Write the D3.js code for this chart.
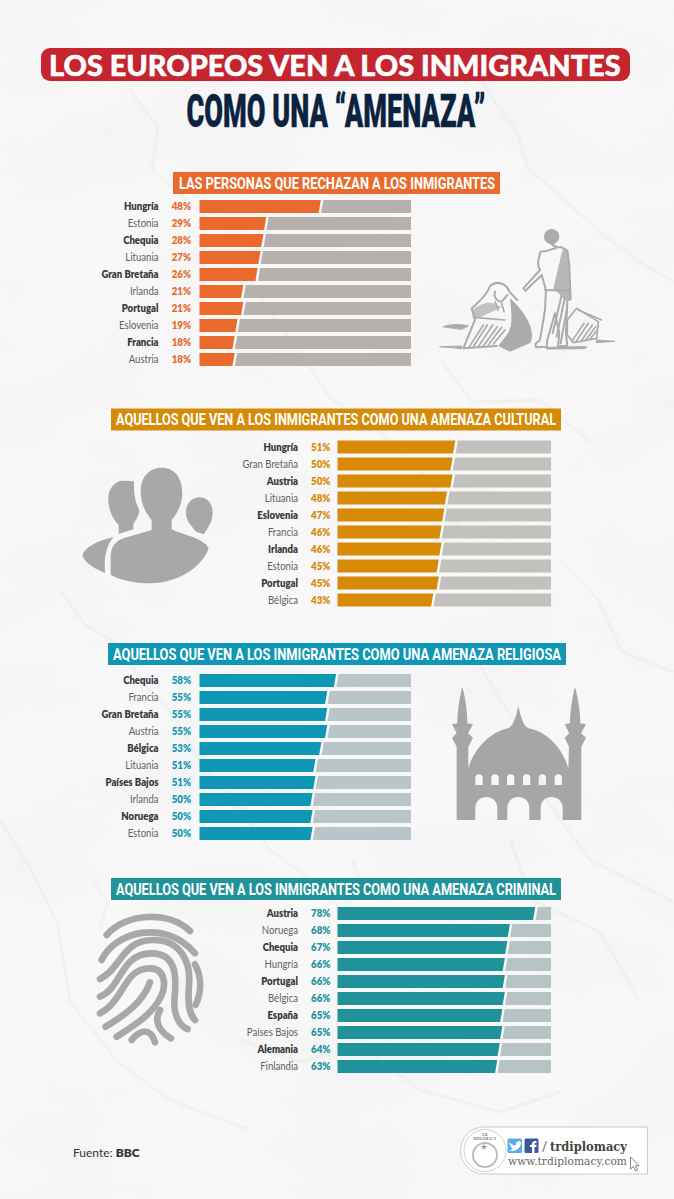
<!DOCTYPE html>
<html><head><meta charset="utf-8">
<script src="https://cdn.jsdelivr.net/npm/d3@7/dist/d3.min.js"></script>
<style>html,body{margin:0;padding:0;background:#f6f6f6}svg{display:block}</style>
</head><body><svg id="c" width="674" height="1199" viewBox="0 0 674 1199"></svg>
<script>
const titleTop = "LOS EUROPEOS VEN A LOS INMIGRANTES";
const titleSub = "COMO UNA “AMENAZA”";
const headers = ["LAS PERSONAS QUE RECHAZAN A LOS INMIGRANTES","AQUELLOS QUE VEN A LOS INMIGRANTES COMO UNA AMENAZA CULTURAL","AQUELLOS QUE VEN A LOS INMIGRANTES COMO UNA AMENAZA RELIGIOSA","AQUELLOS QUE VEN A LOS INMIGRANTES COMO UNA AMENAZA CRIMINAL"];
const names1 = ["Hungría","Estonia","Chequia","Lituania","Gran Bretaña","Irlanda","Portugal","Eslovenia","Francia","Austria"];
const values1 = [48,29,28,27,26,21,21,19,18,18];
const names2 = ["Hungría","Gran Bretaña","Austria","Lituania","Eslovenia","Francia","Irlanda","Estonia","Portugal","Bélgica"];
const values2 = [51,50,50,48,47,46,46,45,45,43];
const names3 = ["Chequia","Francia","Gran Bretaña","Austria","Bélgica","Lituania","Países Bajos","Irlanda","Noruega","Estonia"];
const values3 = [58,55,55,55,53,51,51,50,50,50];
const names4 = ["Austria","Noruega","Chequia","Hungría","Portugal","Bélgica","España","Países Bajos","Alemania","Finlandia"];
const values4 = [78,68,67,66,66,66,65,65,64,63];
const source = "BBC";

const svg = d3.select("#c");
const defs = svg.append("defs");
const f = defs.append("filter").attr("id","marble").attr("x",0).attr("y",0).attr("width","100%").attr("height","100%");
f.append("feTurbulence").attr("type","fractalNoise").attr("baseFrequency","0.007 0.011").attr("numOctaves",5).attr("seed",11);
f.append("feColorMatrix").attr("values","0 0 0 0 0.8  0 0 0 0 0.8  0 0 0 0 0.8  0.9 0 0 0 -0.36");
defs.append("filter").attr("id","soft").append("feGaussianBlur").attr("stdDeviation",.8);

svg.append("rect").attr("width",674).attr("height",1199).attr("fill","#f8f8f8");
svg.append("rect").attr("width",674).attr("height",1199).attr("filter","url(#marble)").attr("opacity",.6);
const veins = [
 "M60,590 L85,625 L112,640 L150,690 L172,712 L205,770 L240,808 L270,850 L300,872 L340,908",
 "M470,60 L492,98 L516,130 L528,168 L560,196 L600,232 L640,262 L674,282",
 "M215,238 L240,270 L262,300 L300,352 L330,398 L380,432 L420,470 L470,540",
 "M455,640 L482,668 L500,700 L530,742 L548,802 L590,860 L640,885 L674,902",
 "M0,820 L30,868 L58,925 L70,1002 L118,1062 L170,1100 L250,1130",
 "M240,1040 L300,1062 L360,1045 L420,1090 L500,1112 L560,1092",
 "M130,90 L158,128 L152,170 L198,210",
 "M560,560 L598,600 L622,652 L674,672",
 "M510,840 L532,900 L600,932 L640,1002",
 "M440,360 L472,402 L540,400 L590,442",
 "M345,905 L360,880 L352,860 M92,880 L108,902 L100,928"];
svg.append("g").attr("fill","none").attr("stroke","#dedede").attr("stroke-width",1).attr("stroke-linejoin","round").attr("filter","url(#soft)")
  .selectAll("path").data(veins).join("path").attr("d",d=>d);

function squeezed(sel, factor){
  sel.each(function(){ const n=this.getComputedTextLength();
    d3.select(this).attr("textLength",n*factor).attr("lengthAdjust","spacingAndGlyphs"); });
  return sel;
}
function fitted(sel, w){ return sel.attr("textLength",w).attr("lengthAdjust","spacingAndGlyphs"); }
function scaledTo(sel, px, py, w){
  const n = sel.node().getComputedTextLength();
  return sel.attr("transform",`translate(${px},${py}) scale(${w/n},1)`);
}

// Title
svg.append("rect").attr("x",41).attr("y",48).attr("width",589).attr("height",33).attr("rx",9).attr("fill","#c4252f");
scaledTo(svg.append("text").attr("font-family","Lato").attr("font-weight",900).attr("font-size",29).attr("fill","#fff").attr("stroke","#fff").attr("stroke-width",.5).text(titleTop),49,75.5,572);
scaledTo(svg.append("text").attr("font-family","Roboto").attr("font-weight",900).attr("font-size",46).attr("fill","#0c2340").attr("stroke","#0c2340").attr("stroke-width",.4).text(titleSub),186.5,127,299);

const panels = [
 {names:names1,values:values1,domain:[5.6,79.2],x0:199.5,x1:411,top:200,labelEnd:158.5,pctX:171.7,color:"#ea6a2d",rest:"#b7b1ae",h:[173,172,327,22],ht:[179,316]},
 {names:names2,values:values2,domain:[8,85.6],x0:337.5,x1:551,top:440.5,labelEnd:298,pctX:311,color:"#d68a06",rest:"#c3c1bd",h:[111,408.5,450,22],ht:[116,440]},
 {names:names3,values:values3,domain:[11.4,83.3],x0:199.5,x1:411,top:674,labelEnd:158.5,pctX:171.7,color:"#0f98b6",rest:"#b9c5c9",h:[108,643,458,22],ht:[113,448]},
 {names:names4,values:values4,domain:[-0.2,84],x0:337.5,x1:551,top:907,labelEnd:298,pctX:311,color:"#20929a",rest:"#b8c3c3",h:[111,878,450,22],ht:[116,440]}
];
panels.forEach((p,i)=>{
  const g = svg.append("g");
  g.append("rect").attr("x",p.h[0]).attr("y",p.h[1]).attr("width",p.h[2]).attr("height",p.h[3]).attr("fill",p.color);
  fitted(g.append("text").attr("x",p.ht[0]).attr("y",p.h[1]+16.5).attr("font-family","Roboto").attr("font-weight",700).attr("font-size",16).attr("fill","#fff").text(headers[i]),p.ht[1]);
  const x = d3.scaleLinear().domain(p.domain).range([p.x0,p.x1]);
  const y = d3.scaleBand().domain(p.names).range([p.top,p.top+166]).paddingInner(4/17).paddingOuter(0);
  const h = y.bandwidth();
  const data = p.names.map((n,j)=>({n,v:p.values[j],j}));
  const rows = g.selectAll("g.r").data(data).join("g").attr("class","r");
  rows.append("path").attr("fill",p.rest).attr("d",d=>{const e=x(d.v),t=y(d.n);
    return `M${e+2},${t}L${p.x1},${t}L${p.x1},${t+h}L${e-.2},${t+h}Z`;});
  rows.append("path").attr("fill",p.color).attr("d",d=>{const e=x(d.v),t=y(d.n);
    return `M${p.x0},${t}L${e-.5},${t}L${e-2.7},${t+h}L${p.x0},${t+h}Z`;});
  squeezed(rows.append("text").attr("x",p.labelEnd).attr("y",d=>y(d.n)+10.2).attr("text-anchor","end")
    .attr("font-family","Lato").attr("font-size",11.4)
    .attr("font-weight",d=>d.j%2==0?800:400).attr("fill",d=>d.j%2==0?"#39393b":"#5f5f61").text(d=>d.n),.84);
  squeezed(rows.append("text").attr("x",p.pctX).attr("y",d=>y(d.n)+10.4)
    .attr("font-family","Lato").attr("font-weight",800).attr("font-size",11.6).attr("fill",p.color).text(d=>d.v+"%"),.84);
});

// Refugees sketch
const sk = svg.append("g").attr("transform","translate(430,220) scale(.3333)").attr("fill","#ababab").attr("stroke","#ababab").attr("stroke-linecap","round").attr("stroke-linejoin","round");
sk.append("circle").attr("cx",365).attr("cy",50).attr("r",23).attr("stroke","none");
sk.append("path").attr("d","M362,70 L378,84 L352,92 L332,95 C322,125 322,135 330,150 L280,205 L286,212 L335,165 L348,210 L345,270 L330,360 L316,372 L318,382 L350,380 L352,360 L375,280 L388,340 L384,378 L412,378 L408,340 L412,240 L422,238 L418,135 L412,92 L395,82 L382,82 Z").attr("fill","none").attr("stroke-width",6);
sk.append("path").attr("d","M398,88 L416,96 L422,236 L405,240 L370,205 Z").attr("stroke","none").attr("opacity",.85);
sk.append("path").attr("fill","none").attr("stroke-width",6).attr("d","M395,225 L368,340 M405,232 L380,350 M412,260 L392,370 M345,210 L420,212");
sk.append("path").attr("fill","none").attr("stroke-width",6).attr("d","M180,198 C200,180 230,190 238,215 L262,240 M180,198 C170,230 135,255 125,265 L135,300 L100,385 L200,378 M195,215 C190,230 200,245 215,245 L232,225");
sk.append("path").attr("stroke","none").attr("d","M240,235 C285,275 318,330 302,368 L240,395 L205,378 L230,345 C250,320 245,285 240,235 Z");
sk.append("path").attr("stroke","none").attr("d","M130,268 C150,252 175,245 190,250 L215,262 L150,292 L130,290 Z").attr("opacity",.7);
sk.append("path").attr("fill","none").attr("stroke-width",5).attr("d","M118,380 L160,315 M130,380 L172,315 M145,380 L188,315 M160,378 L202,320 M175,375 L215,322 M190,372 L225,330 M130,292 L225,300 M195,245 L205,270 M215,250 L222,275");
sk.append("path").attr("fill","none").attr("stroke-width",5).attr("d","M412,300 L440,265 L505,305 L500,355 L430,368 L412,345 Z");
sk.append("path").attr("fill","none").attr("stroke-width",5).attr("d","M425,365 L462,310 M438,365 L475,310 M452,365 L487,315 M466,362 L497,320 M480,358 L500,332 M445,270 L515,300");
sk.append("path").attr("stroke-width",3).attr("d","M40,320 C60,312 90,312 115,318 L95,328 Z M30,380 L95,378 L95,385 Z M500,360 L555,364 L500,368 Z M350,382 L470,380 L465,386 L350,387 Z");

// People
const pe = svg.append("g").attr("transform","translate(70,440) scale(.3333)").attr("fill","#a8a8a8");
pe.append("path").attr("d","M275,83 C315,83 337,115 337,160 C337,195 318,225 305,240 L305,268 C330,282 405,295 416,325 C400,375 330,430 240,430 C190,430 150,420 122,405 L122,345 C125,320 135,305 160,295 L245,270 L245,240 C228,220 212,190 212,155 C212,110 238,83 275,83 Z");
pe.append("path").attr("d","M160,122 L192,124 C190,155 195,185 208,210 C208,225 198,240 190,252 L190,268 L146,282 L146,255 C125,235 115,205 115,175 C115,145 135,122 160,122 Z");
pe.append("path").attr("d","M388,172 C412,172 428,190 428,220 C428,250 408,270 402,283 L378,275 L362,255 C350,240 346,225 348,210 C352,188 368,172 388,172 Z");
pe.append("path").attr("d","M130,292 C110,318 102,345 105,400 L75,385 C60,375 38,360 38,345 C45,320 90,300 130,292 Z");

// Mosque
const mosqueWindows = [117,165,212,260,307,355].map(c=>`M${c-11},315 L${c-11},295 Q${c-11},283 ${c},283 Q${c+11},283 ${c+11},295 L${c+11},315 Z`).join("");
const mosqueDoors = [139,235,335].map(c=>`M${c-33},420 L${c-33},385 C${c-33},340 ${c+33},340 ${c+33},385 L${c+33},420 Z`).join("");
svg.append("g").attr("transform","translate(440,680) scale(.3333)").append("path").attr("fill","#a6a6a6").attr("fill-rule","evenodd")
 .attr("d",`M67,20 C78,60 82,100 82,130 L99,133 L84,160 L99,173 L85,200 L85,265 C100,210 150,155 205,145 C222,135 228,110 235,78 C243,110 248,135 265,145 C325,155 370,210 385,265 L387,200 L374,173 L388,160 L374,133 L390,130 C390,100 395,60 405,20 C416,60 421,100 421,130 L438,133 L423,160 L438,173 L424,200 L424,420 L50,420 L50,200 L36,173 L50,160 L36,133 L52,130 C52,100 57,60 67,20 Z ${mosqueWindows} ${mosqueDoors}`);

// Fingerprint
const ridges = ["M65,90 C120,25 250,15 315,78","M50,165 C90,80 240,40 330,145","M45,222 C110,190 110,105 205,105 C290,105 318,175 312,240 C308,290 310,325 330,345",
 "M45,275 C110,250 105,145 200,145 C290,145 270,250 268,290 C266,330 285,365 308,372","M45,325 C120,285 115,190 195,190 C240,190 245,240 228,275 C200,330 150,360 95,395",
 "M62,365 C120,330 175,290 195,232","M225,315 C205,350 225,380 258,400","M140,405 C165,375 195,365 210,412","M330,178 C350,215 350,260 332,300"];
svg.append("g").attr("transform","translate(85,905) scale(.3333)").attr("fill","none").attr("stroke","#a8a8a8").attr("stroke-width",20).attr("stroke-linecap","round")
 .selectAll("path").data(ridges).join("path").attr("d",d=>d);

// Footer
const ft = svg.append("text").attr("x",73).attr("y",1157).attr("font-family","Lato").attr("font-size",12).attr("fill","#333");
ft.append("tspan").text("Fuente: ");
ft.append("tspan").attr("font-weight",800).text(source);

const lg = svg.append("g");
lg.append("path").attr("fill","#fff").attr("stroke","#c9c9c9").attr("d","M484,1127 L647.5,1127 L647.5,1174 L484,1174 A23.5,23.5 0 0 1 484,1127 Z");
lg.append("circle").attr("cx",485).attr("cy",1150.5).attr("r",21).attr("fill","none").attr("stroke","#cfcfcf");
lg.append("circle").attr("cx",485).attr("cy",1155).attr("r",12).attr("fill","none").attr("stroke","#bdbdbd").attr("stroke-width",2);
lg.append("text").attr("x",485).attr("y",1136).attr("text-anchor","middle").attr("font-family","Liberation Serif").attr("font-weight",700).attr("font-size",3.6).attr("fill","#777").text("T.R.");
lg.append("text").attr("x",485).attr("y",1140).attr("text-anchor","middle").attr("font-family","Liberation Serif").attr("font-weight",700).attr("font-size",3.6).attr("fill","#777").text("DIPLOMACY");
lg.append("path").attr("fill","#999").attr("d",d3.symbol(d3.symbolStar,14)()).attr("transform","translate(484,1147)");
lg.append("rect").attr("x",507.5).attr("y",1138.5).attr("width",14.5).attr("height",14.5).attr("rx",1.5).attr("fill","#58aee8");
lg.append("path").attr("fill","#fff").attr("d","M509,1142 C512,1145 515,1146 516,1145 C515.5,1141 520,1140 521,1142.5 C521,1147 517,1151 512,1151 L509,1150 C511,1150 512,1149.5 513,1149 C511,1148 510,1145 509,1142 Z");
lg.append("rect").attr("x",524.5).attr("y",1138.5).attr("width",14).attr("height",14.5).attr("rx",1.5).attr("fill","#3b5a9a");
lg.append("path").attr("fill","#fff").attr("d","M532,1153 L532,1147 L530,1147 L530,1144.8 L532,1144.8 C531.8,1141.5 533.5,1140.5 536.5,1141 L536.5,1143 C535,1142.8 534.5,1143 534.5,1144.8 L536.5,1144.8 L536.2,1147 L534.5,1147 L534.5,1153 Z");
fitted(lg.append("text").attr("x",542).attr("y",1151).attr("font-family","DejaVu Serif").attr("font-size",13).attr("font-weight",300).attr("fill","#777").text("/"),5);
fitted(lg.append("text").attr("x",550).attr("y",1151).attr("font-family","DejaVu Serif").attr("font-weight",700).attr("font-size",12.5).attr("fill","#444").text("trdiplomacy"),77);
fitted(lg.append("text").attr("x",508).attr("y",1165).attr("font-family","DejaVu Serif").attr("font-size",10.5).attr("fill","#666").text("www.trdiplomacy.com"),119);
lg.append("path").attr("fill","#fff").attr("stroke","#666").attr("stroke-width",.8).attr("d","M630.5,1157 L630.5,1169 L633.5,1166.5 L635.5,1171 L637.5,1170 L635.5,1165.8 L639,1165.5 Z");
</script></body></html>
